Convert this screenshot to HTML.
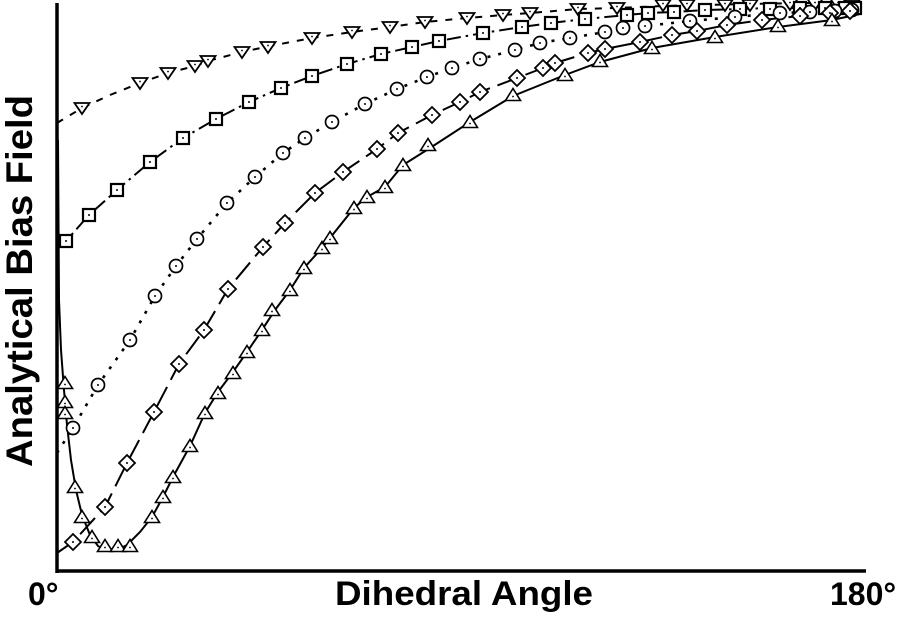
<!DOCTYPE html>
<html><head><meta charset="utf-8"><style>
html,body{margin:0;padding:0;background:#fff;}
svg{display:block;}
</style></head><body>
<svg width="900" height="618" viewBox="0 0 900 618" xmlns="http://www.w3.org/2000/svg">
<defs>
<g id="td"><path d="M-7.5,-5 L7.5,-5 L0,6 Z" fill="#fff" stroke="#000" stroke-width="1.8"/><circle r="0.9" cy="-1.5" fill="#000"/></g>
<g id="tu"><path d="M-7.5,5.5 L7.5,5.5 L0,-6.5 Z" fill="#fff" stroke="#000" stroke-width="1.6"/><circle r="0.9" cy="1.5" fill="#000"/></g>
<g id="sq"><rect x="-6" y="-6" width="12" height="12" fill="#fff" stroke="#000" stroke-width="2.2"/><circle r="1" fill="#000"/></g>
<g id="ci"><circle r="6.5" fill="#fff" stroke="#000" stroke-width="1.7"/><circle r="1" fill="#000"/></g>
<g id="di"><path d="M0,-8 L8,0 L0,8 L-8,0 Z" fill="#fff" stroke="#000" stroke-width="1.8"/><circle r="1" fill="#000"/></g>
</defs>

<!-- Series A: down triangles, dashed -->
<polyline fill="none" stroke="#000" stroke-width="2" stroke-dasharray="7,8" points="57,123 82,108 110,95 140,83 168,73 195,66 208,61 242,52 270,46 312,38 352,32 390,27 425,22 467,18 503,15 530,13 578,9 617,8 663,6 700,5 750,4 800,3 860,3"/>
<!-- Series B: squares, dash-dot -->
<polyline fill="none" stroke="#000" stroke-width="2" stroke-dasharray="14,5,2.5,5" points="57,247 66,241 89,215 117,190 150,162 183,138 216,119 249,102 281,88 312,76 347,64 381,54 412,47 439,41 483,33 522,27 551,23 585,19 627,15 648,13 674,12 705,10 740,9 770,8 800,8 830,7 858,7"/>
<!-- Series C: circles, dotted -->
<polyline fill="none" stroke="#000" stroke-width="2.6" stroke-dasharray="3,8" points="57,453 73,428 98,385 130,340 155,296 176,266 197,239 227,203 255,177 283,153 305,138 332,122 365,104 397,89 427,77 452,68 480,59 515,50 540,43 570,38 605,32 623,28 645,26 690,21 735,17 780,13 810,12 835,11 858,10"/>
<!-- Series D: diamonds, long dash -->
<polyline fill="none" stroke="#000" stroke-width="2" stroke-dasharray="22,8" points="57,553 73,542 105,507 127,463 154,412 179,364 204,330 228,289 263,247 285,223 315,193 343,172 377,149 398,133 432,115 460,102 480,92 517,78 543,68 555,63 588,53 605,49 640,42 672,35 697,31 727,25 762,20 800,16 830,13 858,11"/>
<!-- Series E: up triangles, solid -->
<polyline fill="none" stroke="#000" stroke-width="2" points="58,140 59,300 61,350 64,390 67,425 71,460 76,490 82,515 90,535 98,546 107,551 117,550 127,545 140,532 152,517 163,497 173,477 190,446 205,413 218,392 233,372 247,352 262,330 275,310 290,290 304,268 322,248 330,238 354,208 367,197 385,187 403,165 430,148 470,122 513,96 565,75 600,62 652,48 715,37 778,27 832,20 860,14"/>

<!-- markers A -->
<g>
<use href="#td" x="82" y="108"/><use href="#td" x="140" y="83"/><use href="#td" x="168" y="73"/><use href="#td" x="195" y="66"/><use href="#td" x="208" y="61"/><use href="#td" x="242" y="52"/><use href="#td" x="268" y="47"/><use href="#td" x="312" y="38"/><use href="#td" x="352" y="32"/><use href="#td" x="390" y="27"/><use href="#td" x="425" y="22"/><use href="#td" x="467" y="18"/><use href="#td" x="503" y="15"/><use href="#td" x="530" y="13"/><use href="#td" x="578" y="9"/><use href="#td" x="617" y="8"/><use href="#td" x="663" y="5"/><use href="#td" x="687" y="5"/><use href="#td" x="725" y="5"/><use href="#td" x="750" y="5"/><use href="#td" x="790" y="4"/><use href="#td" x="815" y="4"/><use href="#td" x="838" y="4"/><use href="#td" x="852" y="5"/>
</g>
<!-- markers B -->
<g>
<use href="#sq" x="66" y="241"/><use href="#sq" x="89" y="215"/><use href="#sq" x="117" y="190"/><use href="#sq" x="150" y="162"/><use href="#sq" x="183" y="138"/><use href="#sq" x="216" y="119"/><use href="#sq" x="249" y="102"/><use href="#sq" x="281" y="88"/><use href="#sq" x="312" y="76"/><use href="#sq" x="347" y="64"/><use href="#sq" x="381" y="54"/><use href="#sq" x="412" y="47"/><use href="#sq" x="439" y="41"/><use href="#sq" x="483" y="33"/><use href="#sq" x="522" y="27"/><use href="#sq" x="551" y="23"/><use href="#sq" x="585" y="19"/><use href="#sq" x="627" y="15"/><use href="#sq" x="648" y="13"/><use href="#sq" x="674" y="12"/><use href="#sq" x="705" y="10"/><use href="#sq" x="740" y="9"/><use href="#sq" x="770" y="9"/><use href="#sq" x="800" y="8"/><use href="#sq" x="825" y="8"/><use href="#sq" x="845" y="8"/><use href="#sq" x="855" y="8"/>
</g>
<!-- markers C -->
<g>
<use href="#ci" x="73" y="428"/><use href="#ci" x="98" y="385"/><use href="#ci" x="130" y="340"/><use href="#ci" x="155" y="296"/><use href="#ci" x="176" y="266"/><use href="#ci" x="197" y="239"/><use href="#ci" x="227" y="203"/><use href="#ci" x="255" y="177"/><use href="#ci" x="283" y="153"/><use href="#ci" x="305" y="138"/><use href="#ci" x="332" y="122"/><use href="#ci" x="365" y="104"/><use href="#ci" x="397" y="89"/><use href="#ci" x="427" y="77"/><use href="#ci" x="452" y="68"/><use href="#ci" x="480" y="59"/><use href="#ci" x="515" y="50"/><use href="#ci" x="540" y="43"/><use href="#ci" x="570" y="38"/><use href="#ci" x="605" y="32"/><use href="#ci" x="623" y="28"/><use href="#ci" x="645" y="26"/><use href="#ci" x="690" y="21"/><use href="#ci" x="735" y="17"/><use href="#ci" x="780" y="13"/><use href="#ci" x="810" y="12"/><use href="#ci" x="835" y="11"/><use href="#ci" x="852" y="10"/>
</g>
<!-- markers D -->
<g>
<use href="#di" x="73" y="542"/><use href="#di" x="105" y="507"/><use href="#di" x="127" y="463"/><use href="#di" x="154" y="412"/><use href="#di" x="179" y="364"/><use href="#di" x="204" y="330"/><use href="#di" x="228" y="289"/><use href="#di" x="263" y="247"/><use href="#di" x="285" y="223"/><use href="#di" x="315" y="193"/><use href="#di" x="343" y="172"/><use href="#di" x="377" y="149"/><use href="#di" x="398" y="133"/><use href="#di" x="432" y="115"/><use href="#di" x="460" y="102"/><use href="#di" x="480" y="92"/><use href="#di" x="517" y="78"/><use href="#di" x="543" y="68"/><use href="#di" x="555" y="63"/><use href="#di" x="588" y="53"/><use href="#di" x="605" y="49"/><use href="#di" x="640" y="42"/><use href="#di" x="672" y="35"/><use href="#di" x="697" y="31"/><use href="#di" x="727" y="25"/><use href="#di" x="762" y="20"/><use href="#di" x="800" y="16"/><use href="#di" x="830" y="13"/><use href="#di" x="850" y="11"/>
</g>
<!-- markers E -->
<g>
<use href="#tu" x="65" y="383"/><use href="#tu" x="65" y="402"/><use href="#tu" x="65" y="413"/><use href="#tu" x="75" y="487"/><use href="#tu" x="82" y="517"/><use href="#tu" x="92" y="537"/><use href="#tu" x="105" y="546"/><use href="#tu" x="118" y="546"/><use href="#tu" x="130" y="546"/><use href="#tu" x="152" y="517"/><use href="#tu" x="163" y="497"/><use href="#tu" x="173" y="477"/><use href="#tu" x="190" y="446"/><use href="#tu" x="205" y="413"/><use href="#tu" x="218" y="393"/><use href="#tu" x="233" y="373"/><use href="#tu" x="247" y="352"/><use href="#tu" x="262" y="330"/><use href="#tu" x="272" y="310"/><use href="#tu" x="290" y="290"/><use href="#tu" x="304" y="268"/><use href="#tu" x="322" y="248"/><use href="#tu" x="330" y="238"/><use href="#tu" x="354" y="208"/><use href="#tu" x="367" y="197"/><use href="#tu" x="385" y="187"/><use href="#tu" x="403" y="165"/><use href="#tu" x="428" y="145"/><use href="#tu" x="470" y="122"/><use href="#tu" x="513" y="95"/><use href="#tu" x="565" y="75"/><use href="#tu" x="600" y="61"/><use href="#tu" x="652" y="48"/><use href="#tu" x="715" y="37"/><use href="#tu" x="778" y="26"/><use href="#tu" x="832" y="20"/>
</g>

<!-- axes -->
<line x1="57" y1="3" x2="57" y2="573" stroke="#000" stroke-width="3.5"/>
<line x1="55.5" y1="571" x2="866" y2="571" stroke="#000" stroke-width="3.5"/>

<!-- labels -->
<g font-family="'Liberation Sans', Arial, sans-serif" font-weight="bold" fill="#000">
<text x="28" y="605" font-size="32">0°</text>
<text x="830" y="605" font-size="32">180°</text>
<text x="335" y="605" font-size="34" textLength="258" lengthAdjust="spacingAndGlyphs">Dihedral Angle</text>
<text transform="translate(32,467) rotate(-90)" x="0" y="0" font-size="37" textLength="372" lengthAdjust="spacingAndGlyphs">Analytical Bias Field</text>
</g>
</svg>
</body></html>
